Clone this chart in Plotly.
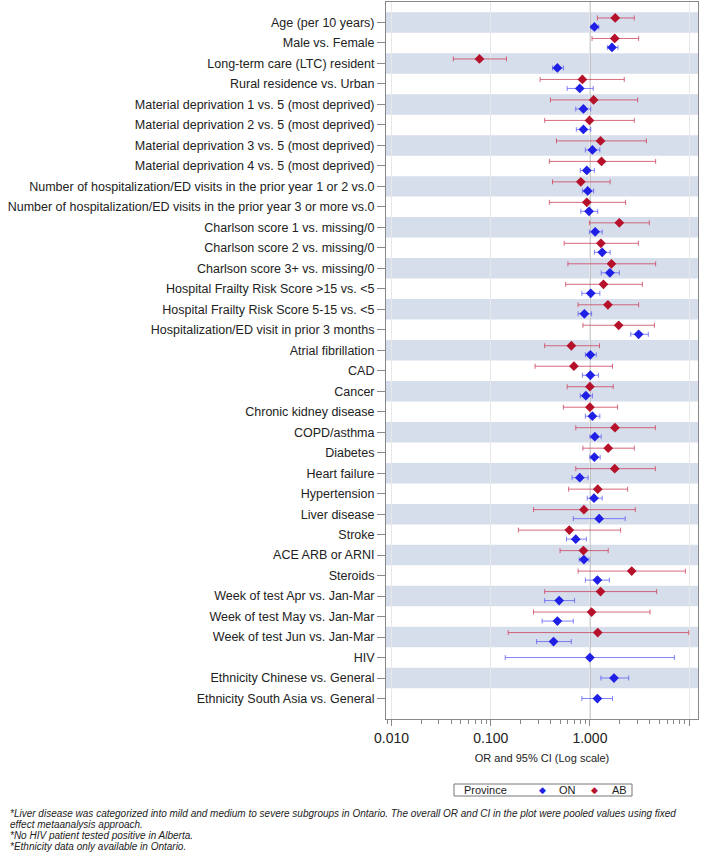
# forest plot of odds ratios by province (ON vs AB), log x axis

import plotly.graph_objects as go

labels = [
    'Age (per 10 years)', 'Male vs. Female', 'Long-term care (LTC) resident',
    'Rural residence vs. Urban',
    'Material deprivation 1 vs. 5 (most deprived)',
    'Material deprivation 2 vs. 5 (most deprived)',
    'Material deprivation 3 vs. 5 (most deprived)',
    'Material deprivation 4 vs. 5 (most deprived)',
    'Number of hospitalization/ED visits in the prior year 1 or 2 vs.0',
    'Number of hospitalization/ED visits in the prior year 3 or more vs.0',
    'Charlson score 1 vs. missing/0', 'Charlson score 2 vs. missing/0',
    'Charlson score 3+ vs. missing/0',
    'Hospital Frailty Risk Score >15 vs. <5',
    'Hospital Frailty Risk Score 5-15 vs. <5',
    'Hospitalization/ED visit in prior 3 months',
    'Atrial fibrillation', 'CAD', 'Cancer', 'Chronic kidney disease',
    'COPD/asthma', 'Diabetes', 'Heart failure', 'Hypertension',
    'Liver disease', 'Stroke', 'ACE ARB or ARNI', 'Steroids',
    'Week of test Apr vs. Jan-Mar', 'Week of test May vs. Jan-Mar',
    'Week of test Jun vs. Jan-Mar', 'HIV',
    'Ethnicity Chinese vs. General', 'Ethnicity South Asia vs. General',
]

# Ontario
on_or = [1.11, 1.67, 0.47, 0.79, 0.86, 0.86, 1.06, 0.93, 0.95, 0.98,
         1.13, 1.33, 1.59, 1.02, 0.88, 3.10, 1.01, 1.01, 0.91, 1.06,
         1.12, 1.11, 0.79, 1.10, 1.24, 0.72, 0.87, 1.19, 0.49, 0.47,
         0.43, 1.00, 1.75, 1.19]
on_lo = [1.02, 1.50, 0.42, 0.59, 0.72, 0.73, 0.90, 0.80, 0.84, 0.81,
         0.99, 1.11, 1.30, 0.83, 0.76, 2.58, 0.90, 0.84, 0.80, 0.90,
         1.00, 1.00, 0.66, 0.94, 0.68, 0.58, 0.78, 0.90, 0.35, 0.33,
         0.29, 0.14, 1.29, 0.83]
on_hi = [1.23, 1.92, 0.54, 1.08, 1.02, 1.02, 1.26, 1.11, 1.09, 1.20,
         1.33, 1.60, 1.98, 1.26, 1.04, 3.88, 1.16, 1.22, 1.06, 1.26,
         1.30, 1.27, 0.96, 1.33, 2.27, 0.92, 0.98, 1.57, 0.70, 0.68,
         0.65, 7.11, 2.46, 1.69]

# Alberta (no HIV / ethnicity data)
ab_or = [1.80, 1.78, 0.077, 0.84, 1.09, 0.99, 1.28, 1.31, 0.81, 0.93,
         1.98, 1.29, 1.65, 1.37, 1.52, 1.95, 0.65, 0.69, 1.00, 1.00,
         1.79, 1.53, 1.78, 1.20, 0.87, 0.62, 0.86, 2.64, 1.28, 1.04,
         1.20, None, None, None]
ab_lo = [1.19, 1.05, 0.042, 0.315, 0.40, 0.35, 0.46, 0.39, 0.42, 0.39,
         0.99, 0.55, 0.60, 0.57, 0.76, 0.85, 0.35, 0.28, 0.59, 0.54,
         0.72, 0.85, 0.72, 0.61, 0.27, 0.19, 0.50, 0.76, 0.35, 0.27,
         0.15, None, None, None]
ab_hi = [2.80, 3.10, 0.144, 2.22, 3.03, 2.80, 3.71, 4.60, 1.60, 2.29,
         3.97, 3.08, 4.60, 3.38, 3.10, 4.47, 1.25, 1.69, 1.72, 1.90,
         4.57, 2.80, 4.57, 2.40, 2.87, 2.04, 1.53, 9.18, 4.71, 4.04,
         9.93, None, None, None]

footnotes = [
    '*Liver disease was categorized into mild and medium to severe subgroups in Ontario. '
    'The overall OR and CI in the plot were pooled values using fixed',
    'effect metaanalysis approach.',
    '*No HIV patient tested positive in Alberta.',
    '*Ethnicity data only available in Ontario.',
]

FONT = 'Arial, Liberation Sans, sans-serif'
ON_COL, AB_COL = '#1f1fe6', '#b5112b'
rows = list(range(1, len(labels) + 1))
off = 0.22

# row positions: shift apart when both provinces present
ab_idx = [i for i in range(len(labels)) if ab_or[i] is not None]
ab_y = [rows[i] - off for i in ab_idx]
on_y = [rows[i] + off if ab_or[i] is not None else rows[i] for i in range(len(labels))]

fig = go.Figure()

# alternating bands
for r in rows:
    if r % 2 == 1:
        fig.add_shape(type='rect', xref='paper', x0=0, x1=1, y0=r - 0.5, y1=r + 0.5,
                      fillcolor='#d6ddeb', line_width=0, layer='below')

# reference line at OR = 1
fig.add_shape(type='line', xref='x', yref='paper', x0=1, x1=1, y0=0, y1=1,
              line=dict(color='#a6a6a6', width=1.2), layer='below')

fig.add_trace(go.Scatter(
    x=on_or, y=on_y, mode='markers', name='ON', showlegend=False,
    marker=dict(symbol='diamond', size=7.5, color=ON_COL),
    error_x=dict(type='data', symmetric=False,
                 array=[h - o for h, o in zip(on_hi, on_or)],
                 arrayminus=[o - l for o, l in zip(on_or, on_lo)],
                 color='rgba(90,90,245,0.75)', thickness=1, width=2.5),
))
fig.add_trace(go.Scatter(
    x=[ab_or[i] for i in ab_idx], y=ab_y, mode='markers', name='AB', showlegend=False,
    marker=dict(symbol='diamond', size=7.5, color=AB_COL),
    error_x=dict(type='data', symmetric=False,
                 array=[ab_hi[i] - ab_or[i] for i in ab_idx],
                 arrayminus=[ab_or[i] - ab_lo[i] for i in ab_idx],
                 color='rgba(205,70,95,0.8)', thickness=1, width=2.5),
))

W, H = 709, 854
# plot area in pixels
plot_l, plot_w, plot_t, plot_h = 386, 312, 2, 717


def px(x):
    return (x - plot_l) / plot_w


def py(y):
    return (plot_t + plot_h - y) / plot_h


# footnotes
for k, line in enumerate(footnotes):
    fig.add_annotation(
        text=line, xref='paper', yref='paper', x=px(8), y=py(813 + 11.3 * k),
        xanchor='left', yanchor='middle', showarrow=False,
        font=dict(family=FONT, size=10, color='#222222', style='italic'),
    )

# legend box drawn by hand (compact SAS style)
fig.add_shape(type='rect', xref='paper', yref='paper',
              x0=px(454), x1=px(632), y0=py(784), y1=py(796),
              line=dict(color='#777777', width=1), fillcolor='white')
leg_items = [('Province', 462, '#222222', 'left'),
             ('\u25c6', 542, ON_COL, 'center'), ('ON', 557, '#222222', 'left'),
             ('\u25c6', 594, AB_COL, 'center'), ('AB', 610, '#222222', 'left')]
for txt, x0, col, anc in leg_items:
    fig.add_annotation(text=txt, xref='paper', yref='paper', x=px(x0), y=py(790),
                       xanchor=anc, yanchor='middle', showarrow=False,
                       font=dict(family=FONT, size=11 if txt != '\u25c6' else 9, color=col))

fig.update_layout(
    width=W, height=H,
    margin=dict(l=plot_l, r=W - plot_l - plot_w, t=plot_t, b=H - plot_t - plot_h,
                autoexpand=False),
    paper_bgcolor='white', plot_bgcolor='white',
    font=dict(family=FONT, color='#222222'),
    showlegend=False,
    xaxis=dict(
        type='log', range=[-2.056, 1.09],
        tickvals=[0.01, 0.1, 1, 10], ticktext=['0.010', '0.100', '1.000', '10.000'],
        tickfont=dict(size=14, color='#222222'),
        ticks='outside', ticklen=6, tickcolor='#888888',
        showgrid=True, gridcolor='#e8e8e8', gridwidth=1, zeroline=False,
        minor=dict(ticks='outside', ticklen=4, tickcolor='#888888', dtick='D1', showgrid=False),
        showline=True, linecolor='#888888', mirror=True,
        title=dict(text='OR and 95% CI (Log scale)', font=dict(size=11), standoff=9),
    ),
    yaxis=dict(
        range=[len(labels) + 1, 0], tickvals=rows, ticktext=labels,
        tickfont=dict(size=12.5, color='#222222'),
        ticks='outside', ticklen=8, tickcolor='#888888',
        showgrid=False, zeroline=False,
        showline=True, linecolor='#888888', mirror=True,
    ),
)

# drop the browser's default 8px body margin so the figure fills the window
fig.write_html('out.html', config={'displayModeBar': False},
               post_script="document.body.style.margin = '0';")
